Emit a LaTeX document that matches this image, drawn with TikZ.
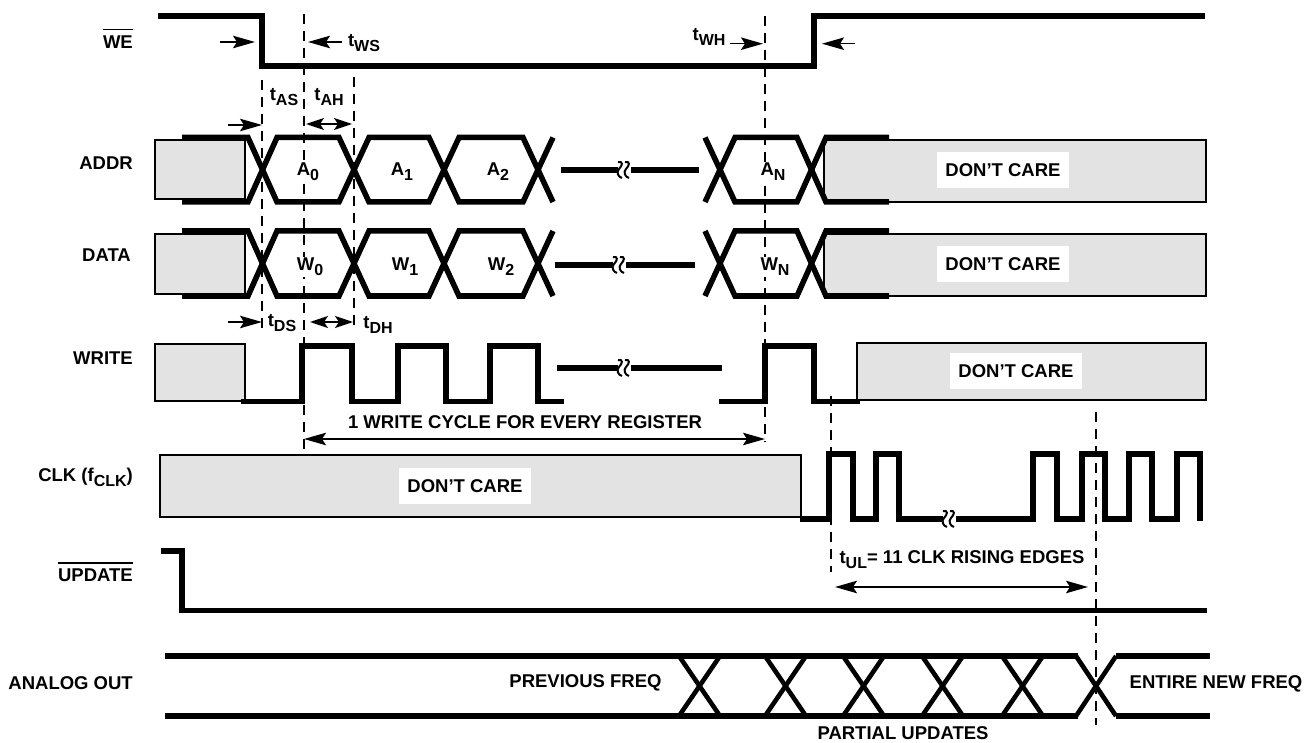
\documentclass[tikz,border=0pt]{standalone}
\usepackage{fontspec}
\setmainfont{Liberation Sans}
\usetikzlibrary{arrows.meta}
\newcommand{\lowsub}[1]{\raisebox{-0.28em}{\fontsize{16}{16}\selectfont #1}}
\newcommand{\wavebreak}[2]{%
    \fill[white] (#1-6, #2-4) rectangle (#1+7, #2+4);
    \draw[line width=2pt] (#1-6, #2-8) .. controls (#1-1, #2-9) and (#1-1, #2-5) .. (#1-5, #2-1) .. controls (#1-8, #2+2) and (#1-6, #2+7) .. (#1-2, #2+8);
    \draw[line width=2pt] (#1+1, #2-8) .. controls (#1+6, #2-9) and (#1+6, #2-5) .. (#1+2, #2-1) .. controls (#1-1, #2+2) and (#1+1, #2+7) .. (#1+5, #2+8);
}
\begin{document}
\begin{tikzpicture}[x=1pt, y=-1pt, font=\fontsize{18.5}{20}\selectfont\bfseries]
    \tikzstyle{signal} = [line width=5.5pt]
    \tikzstyle{cross} = [line width=4.6pt]
    \tikzstyle{dontcare} = [draw=black, line width=1.5pt, fill=black!11]
    \tikzstyle{timing} = [line width=1.7pt, dash pattern=on 10pt off 7pt]
    \tikzstyle{span} = [line width=1.5pt, {Stealth[length=22pt, width=12.5pt, inset=4pt]}-{Stealth[length=22pt, width=12.5pt, inset=4pt]}]
    \tikzstyle{shortspan} = [line width=1.5pt, {Stealth[length=18pt, width=12pt, inset=4pt]}-{Stealth[length=18pt, width=12pt, inset=4pt]}]
    \tikzstyle{toward} = [line width=1.5pt, -{Stealth[length=22pt, width=12.5pt, inset=4pt]}]
    \tikzstyle{signame} = [left, inner sep=0pt]
    \tikzstyle{bar} = [line width=1.7pt]
    \tikzstyle{blank} = [fill=white, inner xsep=8pt, inner ysep=11pt]
    \tikzstyle{value} = [fill=white, inner sep=1pt]
    \useasboundingbox (0, 0) rectangle (1306, 743);

    % grey areas
    \draw[dontcare] (155, 140) rectangle (245, 199);
    \draw[dontcare] (824, 140) rectangle (1206, 202);
    \draw[dontcare] (155, 234) rectangle (245, 294);
    \draw[dontcare] (824, 234) rectangle (1206, 296);
    \draw[dontcare] (155, 344) rectangle (245, 401);
    \draw[dontcare] (857, 343) rectangle (1206, 400);
    \draw[dontcare] (160, 455) rectangle (801, 517);

    % WE
    \draw[signal] (158, 16) -- (262, 16) -- (262, 66) -- (814, 66) -- (814, 16) -- (1205, 16);

    % ADDR
    \draw[signal] (182, 137.5) -- (248, 137.5) -- (277, 202) -- (339, 202) -- (369, 137.5) -- (429, 137.5) -- (459, 202) -- (523, 202) -- (553, 137.5);
    \draw[signal] (182, 202) -- (248, 202) -- (277, 137.5) -- (339, 137.5) -- (369, 202) -- (429, 202) -- (459, 137.5) -- (523, 137.5) -- (553, 202);
    \draw[signal] (705, 137.5) -- (735, 202) -- (797, 202) -- (826, 137.5) -- (889, 137.5);
    \draw[signal] (705, 202) -- (735, 137.5) -- (797, 137.5) -- (826, 202) -- (889, 202);
    \draw[signal] (561, 170) -- (699, 170);
    \wavebreak{624}{170}

    % DATA
    \draw[signal] (182, 231) -- (248, 231) -- (277, 296) -- (339, 296) -- (369, 231) -- (429, 231) -- (459, 296) -- (523, 296) -- (553, 231);
    \draw[signal] (182, 296) -- (248, 296) -- (277, 231) -- (339, 231) -- (369, 296) -- (429, 296) -- (459, 231) -- (523, 231) -- (553, 296);
    \draw[signal] (705, 231) -- (735, 296) -- (797, 296) -- (826, 231) -- (889, 231);
    \draw[signal] (705, 296) -- (735, 231) -- (797, 231) -- (826, 296) -- (889, 296);
    \draw[signal] (555, 265) -- (695, 265);
    \wavebreak{619}{265}

    % WRITE
    \draw[signal] (241, 401.5) -- (302, 401.5) -- (302, 346) -- (352, 346) -- (352, 401.5) -- (398, 401.5) -- (398, 346) -- (446, 346) -- (446, 401.5) -- (490, 401.5) -- (490, 346) -- (538, 346) -- (538, 401.5) -- (564, 401.5);
    \draw[signal] (557, 368) -- (722, 368);
    \wavebreak{624}{368}
    \draw[signal] (719, 401.5) -- (765, 401.5) -- (765, 346) -- (814, 346) -- (814, 401.5) -- (860, 401.5);

    % CLK
    \draw[signal] (800, 519) -- (829, 519) -- (829, 454) -- (853, 454) -- (853, 519) -- (876, 519) -- (876, 454) -- (899, 454) -- (899, 519) -- (1033, 519) -- (1033, 454) -- (1057, 454) -- (1057, 519) -- (1082, 519) -- (1082, 454) -- (1105, 454) -- (1105, 519) -- (1129, 519) -- (1129, 454) -- (1152, 454) -- (1152, 519) -- (1177, 519) -- (1177, 454) -- (1200, 454) -- (1200, 521);
    \wavebreak{949}{519}

    % UPDATE
    \draw[signal] (161, 551) -- (182, 551) -- (182, 610.5) -- (1207, 610.5);

    % ANALOG OUT
    \draw[signal] (165, 656) -- (1078, 656);
    \draw[signal] (165, 716) -- (1078, 716);
    \draw[signal] (1116, 656) -- (1210, 656);
    \draw[signal] (1116, 716) -- (1210, 716);
    \draw[cross] (679, 656) -- (720, 716);
    \draw[cross] (720, 656) -- (679, 716);
    \draw[cross] (765, 656) -- (806, 716);
    \draw[cross] (806, 656) -- (765, 716);
    \draw[cross] (843, 656) -- (884, 716);
    \draw[cross] (884, 656) -- (843, 716);
    \draw[cross] (922, 656) -- (963, 716);
    \draw[cross] (963, 656) -- (922, 716);
    \draw[cross] (1002, 656) -- (1043, 716);
    \draw[cross] (1043, 656) -- (1002, 716);
    \draw[cross] (1076, 656) -- (1116, 716);
    \draw[cross] (1116, 656) -- (1076, 716);

    % dashed guides
    \draw[timing] (262, 80) -- (262, 330);
    \draw[timing] (304, 14) -- (304, 450);
    \draw[timing] (354, 77) -- (354, 330);
    \draw[timing] (765, 16) -- (765, 442);
    \draw[timing] (831, 396) -- (831, 572);
    \draw[timing] (1096, 412) -- (1096, 725);

    % timing arrows
    \draw[toward] (220, 42) -- (255, 42);
    \draw[toward] (342, 42) -- (308, 42);
    \draw[toward] (730, 43.7) -- (763, 43.7);
    \draw[toward] (855, 43.7) -- (822, 43.7);
    \draw[toward] (228, 125) -- (262, 125);
    \draw[shortspan] (306, 124) -- (352, 124);
    \draw[toward] (228, 322) -- (262, 322);
    \draw[shortspan] (310, 322) -- (353, 322);
    \draw[span] (304, 439) -- (765, 439);
    \draw[span] (835, 587) -- (1088, 587);

    % signal names
    \node[signame] (we) at (133, 42) {WE};
    \draw[bar] ([yshift=6pt]we.north west) -- ([yshift=6pt]we.north east);
    \node[signame] (addr) at (133, 163) {ADDR};
    \node[signame] (data) at (131, 255) {DATA};
    \node[signame] (write) at (133, 358) {WRITE};
    \node[signame] (clk) at (133, 477) {CLK (f\lowsub{CLK})};
    \node[signame] (update) at (133, 575.5) {UPDATE};
    \draw[bar] ([yshift=6pt]update.north west) -- ([yshift=6pt]update.north east);
    \node[signame] (analog) at (133, 683) {ANALOG OUT};

    % values
    \node[value] (a0) at (308, 172) {A\lowsub{0}};
    \node[value] (a1) at (402, 172) {A\lowsub{1}};
    \node[value] (a2) at (498, 172) {A\lowsub{2}};
    \node[value] (an) at (773, 172) {A\lowsub{N}};
    \node[value] (w0) at (310, 267) {W\lowsub{0}};
    \node[value] (w1) at (405, 267) {W\lowsub{1}};
    \node[value] (w2) at (501, 267) {W\lowsub{2}};
    \node[value] (wn) at (775, 267) {W\lowsub{N}};

    % timing names
    \node (tws) at (364, 43) {t\lowsub{WS}};
    \node (twh) at (709, 37) {t\lowsub{WH}};
    \node (tas) at (284, 97) {t\lowsub{AS}};
    \node (tah) at (329, 97) {t\lowsub{AH}};
    \node (tds) at (282, 323) {t\lowsub{DS}};
    \node (tdh) at (378, 325) {t\lowsub{DH}};

    % don't care boxes
    \node[blank] (dc1) at (1003, 170) {DON'T CARE};
    \node[blank] (dc2) at (1003, 264) {DON'T CARE};
    \node[blank] (dc3) at (1016, 371) {DON'T CARE};
    \node[blank] (dc4) at (465, 486) {DON'T CARE};

    % long captions
    \node (cycle) at (525, 422) {1 WRITE CYCLE FOR EVERY REGISTER};
    \node (tul) at (962, 560) {t\lowsub{UL}= 11 CLK RISING EDGES};
    \node (prev) at (585.5, 683) {PREVIOUS FREQ};
    \node (new) at (1216, 684) {ENTIRE NEW FREQ};
    \node (partial) at (903, 733) {PARTIAL UPDATES};
\end{tikzpicture}
\end{document}
